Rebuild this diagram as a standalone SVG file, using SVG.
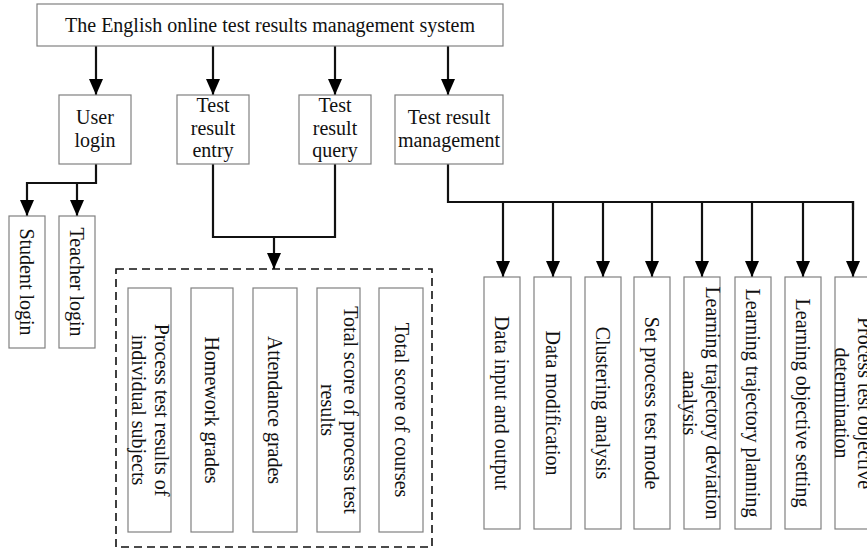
<svg xmlns="http://www.w3.org/2000/svg" width="867" height="548" viewBox="0 0 867 548">
<style>
.box{fill:#fff;stroke:#808080;stroke-width:1.2}
.t{font-family:"Liberation Serif","Times New Roman",serif;font-size:20px;fill:#111;text-anchor:middle}
.v{dominant-baseline:central}
.c{fill:none;stroke:#111;stroke-width:2.2}
.a{marker-end:url(#ah)}
.dash{fill:none;stroke:#111;stroke-width:1.6;stroke-dasharray:8 5}
</style>
<defs>
<marker id="ah" markerUnits="userSpaceOnUse" markerWidth="16" markerHeight="14" refX="16" refY="7" orient="auto">
<path d="M0,0 L16,7 L0,14 z" fill="#000"/>
</marker>
</defs>
<rect width="867" height="548" fill="#fff"/>

<g id="connectors">
<line class="c a" x1="96" y1="46" x2="96" y2="95"/>
<line class="c a" x1="213" y1="46" x2="213" y2="95"/>
<line class="c a" x1="335" y1="46" x2="335" y2="95"/>
<line class="c a" x1="448" y1="46" x2="448" y2="95"/>
<polyline class="c" points="96,164 96,183 27,183"/>
<line class="c a" x1="27" y1="182" x2="27" y2="216"/>
<line class="c a" x1="77" y1="183" x2="77" y2="216"/>
<polyline class="c" points="213,164 213,237 335,237 335,164"/>
<line class="c a" x1="274" y1="237" x2="274" y2="269"/>
<polyline class="c" points="448,164 448,202 853,202 853,210"/>
<line class="c a" x1="503" y1="202" x2="503" y2="277"/>
<line class="c a" x1="553" y1="202" x2="553" y2="277"/>
<line class="c a" x1="603" y1="202" x2="603" y2="277"/>
<line class="c a" x1="652" y1="202" x2="652" y2="277"/>
<line class="c a" x1="702" y1="202" x2="702" y2="277"/>
<line class="c a" x1="752" y1="202" x2="752" y2="277"/>
<line class="c a" x1="803" y1="202" x2="803" y2="277"/>
<line class="c a" x1="853" y1="201" x2="853" y2="277"/>
</g>

<g id="root">
<rect class="box" x="37" y="4" width="466" height="42"/>
<text class="t" x="270" y="32">The English online test results management system</text>
</g>

<g id="user-login">
<rect class="box" x="59" y="95" width="72" height="69"/>
<text class="t" x="95" y="124">User</text>
<text class="t" x="95" y="147">login</text>
</g>
<g id="test-result-entry">
<rect class="box" x="177" y="95" width="72" height="69"/>
<text class="t" x="213" y="112">Test</text>
<text class="t" x="213" y="135">result</text>
<text class="t" x="213" y="157">entry</text>
</g>
<g id="test-result-query">
<rect class="box" x="299" y="95" width="72" height="69"/>
<text class="t" x="335" y="112">Test</text>
<text class="t" x="335" y="135">result</text>
<text class="t" x="335" y="157">query</text>
</g>
<g id="test-result-management">
<rect class="box" x="395" y="95" width="108" height="69"/>
<text class="t" x="449" y="124">Test result</text>
<text class="t" x="449" y="147">management</text>
</g>

<g id="student-login">
<rect class="box" x="9" y="216" width="36" height="132"/>
<text class="t v" transform="translate(27,282) rotate(90)">Student login</text>
</g>
<g id="teacher-login">
<rect class="box" x="59" y="216" width="36" height="132"/>
<text class="t v" transform="translate(77,282) rotate(90)">Teacher login</text>
</g>

<g id="grades-group">
<rect class="dash" x="116" y="269" width="316" height="278"/>
</g>
<g id="process-test-results">
<rect class="box" x="128" y="288" width="43" height="244"/>
<text class="t v" transform="translate(162,410) rotate(90)">Process test results of</text>
<text class="t v" transform="translate(139,410) rotate(90)">individual subjects</text>
</g>
<g id="homework-grades">
<rect class="box" x="191" y="288" width="42" height="244"/>
<text class="t v" transform="translate(212,410) rotate(90)">Homework grades</text>
</g>
<g id="attendance-grades">
<rect class="box" x="253" y="288" width="44" height="244"/>
<text class="t v" transform="translate(275,410) rotate(90)">Attendance grades</text>
</g>
<g id="total-process">
<rect class="box" x="317" y="288" width="43" height="244"/>
<text class="t v" transform="translate(351,410) rotate(90)">Total score of process test</text>
<text class="t v" transform="translate(328,410) rotate(90)">results</text>
</g>
<g id="total-courses">
<rect class="box" x="379" y="288" width="44" height="244"/>
<text class="t v" transform="translate(402,410) rotate(90)">Total score of courses</text>
</g>

<g id="data-io">
<rect class="box" x="484" y="277" width="36" height="252"/>
<text class="t v" transform="translate(502,403) rotate(90)">Data input and output</text>
</g>
<g id="data-mod">
<rect class="box" x="534" y="277" width="37" height="252"/>
<text class="t v" transform="translate(553,403) rotate(90)">Data modification</text>
</g>
<g id="clustering">
<rect class="box" x="585" y="277" width="36" height="252"/>
<text class="t v" transform="translate(603,403) rotate(90)">Clustering analysis</text>
</g>
<g id="set-mode">
<rect class="box" x="634" y="277" width="36" height="252"/>
<text class="t v" transform="translate(652,403) rotate(90)">Set process test mode</text>
</g>
<g id="deviation">
<rect class="box" x="684" y="277" width="36" height="252"/>
<text class="t v" transform="translate(713,403) rotate(90)">Learning trajectory deviation</text>
<text class="t v" transform="translate(690,403) rotate(90)">analysis</text>
</g>
<g id="planning">
<rect class="box" x="735" y="277" width="36" height="252"/>
<text class="t v" transform="translate(753,403) rotate(90)">Learning trajectory planning</text>
</g>
<g id="objective-setting">
<rect class="box" x="785" y="277" width="36" height="252"/>
<text class="t v" transform="translate(803,403) rotate(90)">Learning objective setting</text>
</g>
<g id="objective-determination">
<rect class="box" x="835" y="277" width="40" height="252"/>
<text class="t v" transform="translate(865,403) rotate(90)">Process test objective</text>
<text class="t v" transform="translate(842,403) rotate(90)">determination</text>
</g>
</svg>
